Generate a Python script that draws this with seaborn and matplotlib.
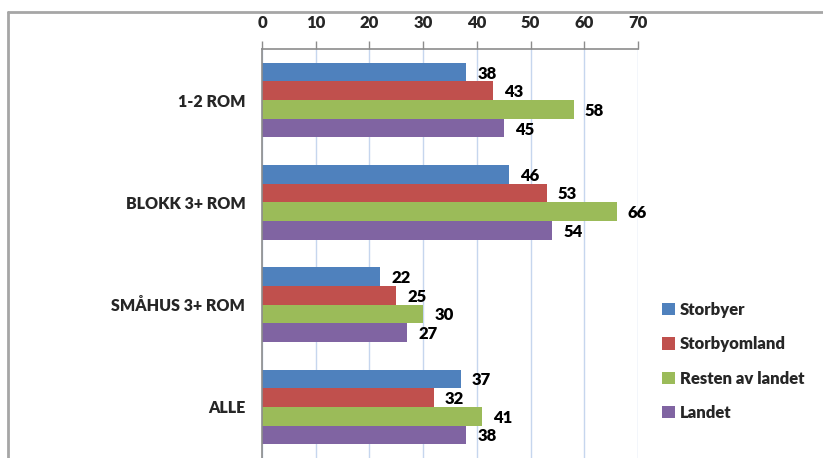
import matplotlib
matplotlib.use("Agg")
import matplotlib.pyplot as plt
from matplotlib.lines import Line2D
from matplotlib.patches import Patch
import seaborn as sns
import pandas as pd

categories = ["1-2 ROM", "BLOKK 3+ ROM", "SMÅHUS 3+ ROM", "ALLE"]
series = ["Storbyer", "Storbyomland", "Resten av landet", "Landet"]
storbyer = [38, 46, 22, 37]
storbyomland = [43, 53, 25, 32]
resten = [58, 66, 30, 41]
landet = [45, 54, 27, 38]
x_ticks = [0, 10, 20, 30, 40, 50, 60, 70]
colors = ["#4f81bd", "#c0504d", "#9bbb59", "#8064a2"]

rows = []
for name, vals in zip(series, [storbyer, storbyomland, resten, landet]):
    for cat, v in zip(categories, vals):
        rows.append({"Kategori": cat, "Serie": name, "Verdi": v})
df = pd.DataFrame(rows)

sns.set_theme(style="white")
plt.rcParams["font.family"] = ["Lato", "DejaVu Sans"]
WEIGHT = "heavy"

fig = plt.figure(figsize=(8.23, 4.58), dpi=100)
ax = fig.add_axes([262 / 823, 0.0, (638 - 262) / 823, 1 - 49 / 458])

sns.barplot(data=df, y="Kategori", x="Verdi", hue="Serie", order=categories,
            hue_order=series, palette=colors, orient="h", width=0.73,
            saturation=1, errorbar=None, ax=ax, legend=False,
            edgecolor="none", linewidth=0)

ax.set_xlim(0, 70)
ax.set_ylim(3.5, -0.5)
ax.set_xticks(x_ticks)
ax.xaxis.tick_top()
ax.tick_params(axis="x", which="major", direction="out", length=6, width=1,
               color="#8c8c8c", labelsize=12, pad=7)
for lbl in ax.get_xticklabels():
    lbl.set_fontweight(WEIGHT)
ax.set_xlabel("")
ax.set_ylabel("")

# Category labels without ticks; separator ticks between categories
ax.tick_params(axis="y", which="major", length=0, labelsize=11.5, pad=12)
for lbl in ax.get_yticklabels():
    lbl.set_fontweight(WEIGHT)
ax.set_yticks([0.5, 1.5, 2.5], minor=True)
ax.tick_params(axis="y", which="minor", direction="out", length=6,
               width=1, color="#8c8c8c")

ax.grid(axis="x", color="#c6d6ee", linewidth=1)
ax.set_axisbelow(True)
for side in ["bottom", "right"]:
    ax.spines[side].set_visible(False)
for side in ["top", "left"]:
    ax.spines[side].set_color("#8c8c8c")
    ax.spines[side].set_linewidth(1.2)

# Value labels to the right of each bar
for container in ax.containers:
    for bar in container:
        w = bar.get_width()
        yc = bar.get_y() + bar.get_height() / 2
        ax.annotate(f"{w:.0f}", xy=(w, yc), xytext=(8, -1),
                    textcoords="offset points", ha="left", va="center",
                    fontsize=12, fontweight=WEIGHT, color="black",
                    annotation_clip=False)

handles = [Patch(facecolor=c, edgecolor="none") for c in colors]
fig.legend(handles, series, loc="upper left",
           bbox_to_anchor=(647 / 823, 1 - 287 / 458), frameon=False,
           prop={"weight": WEIGHT, "size": 12}, handlelength=0.75,
           handleheight=0.75, handletextpad=0.3, labelspacing=1.1)

# Chart-area border along top and left edges
fig.add_artist(Line2D([8 / 823, 1.0], [1 - 12 / 458, 1 - 12 / 458],
                      transform=fig.transFigure, color="#a6a6a6", lw=2))
fig.add_artist(Line2D([8 / 823, 8 / 823], [0, 1 - 12 / 458],
                      transform=fig.transFigure, color="#a6a6a6", lw=2))

fig.savefig("out.png", dpi=100)
